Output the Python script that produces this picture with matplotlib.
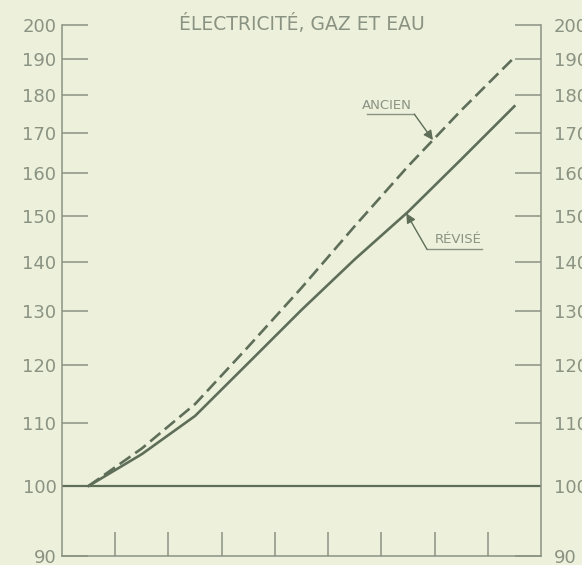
import numpy as np
import matplotlib
matplotlib.use("Agg")
import matplotlib.pyplot as plt

# Index values, log scale, one point per period (centred between ticks)
periods = [0.5, 1.5, 2.5, 3.5, 4.5, 5.5, 6.5, 7.5, 8.5]
ancien = [100, 105.8, 113.1, 123.3, 134.7, 147.8, 161.7, 175.9, 190.5]
revise = [100, 104.9, 111.1, 120.3, 130.3, 140.6, 151.0, 163.4, 177.0]

y_ticks = [90, 100, 110, 120, 130, 140, 150, 160, 170, 180, 190, 200]
x_ticks = [1, 2, 3, 4, 5, 6, 7, 8]

bg = '#edf1dc'
ink = '#5f6e59'
grey = '#8a9282'

fig = plt.figure(figsize=(5.82, 5.65), dpi=100, facecolor=bg)
ax = fig.add_axes([62 / 582, 1 - 556 / 565, 479 / 582, 531 / 565])
ax.set_facecolor(bg)

ax.set_yscale('log')
ax.set_xlim(0, 9)
ax.set_ylim(90, 200)

ax.axhline(100, color=ink, lw=1.6, zorder=2)
ax.plot(periods, ancien, color=ink, lw=1.9, dashes=(5, 2.2), zorder=3)
ax.plot(periods, revise, color=ink, lw=1.9, zorder=3)

# ticks and spines
ax.spines['top'].set_visible(False)
for s in ['left', 'right', 'bottom']:
    ax.spines[s].set_color(grey)
    ax.spines[s].set_linewidth(1.1)

ax.set_yticks(y_ticks)
ax.set_yticklabels([str(v) for v in y_ticks])
ax.yaxis.set_minor_locator(matplotlib.ticker.NullLocator())
ax.tick_params(axis='y', which='major', direction='in', length=19, width=1.1,
               color=grey, labelcolor=grey, labelsize=13, pad=4,
               left=True, right=True, labelleft=True, labelright=True)
ax.set_xticks(x_ticks)
ax.tick_params(axis='x', direction='in', length=17, width=1.1, color=grey,
               labelbottom=False)

# right labels sit a little further from the spine
offset = matplotlib.transforms.ScaledTranslation(5 / 72, 0, fig.dpi_scale_trans)
for t in ax.yaxis.get_major_ticks():
    t.label2.set_transform(t.label2.get_transform() + offset)

fig.text(0.519, 1 - 30 / 565, 'ÉLECTRICITÉ, GAZ ET EAU', ha='center',
         va='baseline', color=grey, fontsize=13.5)

# labels with leader arrows
def label(name, series, x_tip, corner, x_end, text_xy):
    y_tip = np.exp(np.interp(x_tip, periods, np.log(series)))
    ax.plot([corner[0], x_end], [corner[1], corner[1]], color=grey, lw=1.0)
    ax.annotate('', xy=(x_tip, y_tip), xytext=corner,
                arrowprops=dict(arrowstyle='-|>', color=ink, lw=1.0,
                                mutation_scale=14, shrinkA=0, shrinkB=0))
    ax.text(text_xy[0], text_xy[1], name, ha='center', va='center',
            color=grey, fontsize=9.5)

label('ANCIEN', ancien, 6.97, (6.62, 174.9), 5.73, (6.11, 177.3))
label('RÉVISÉ', revise, 6.47, (6.86, 142.7), 7.89, (7.44, 144.9))

fig.savefig('out.png', dpi=100, facecolor=bg)
